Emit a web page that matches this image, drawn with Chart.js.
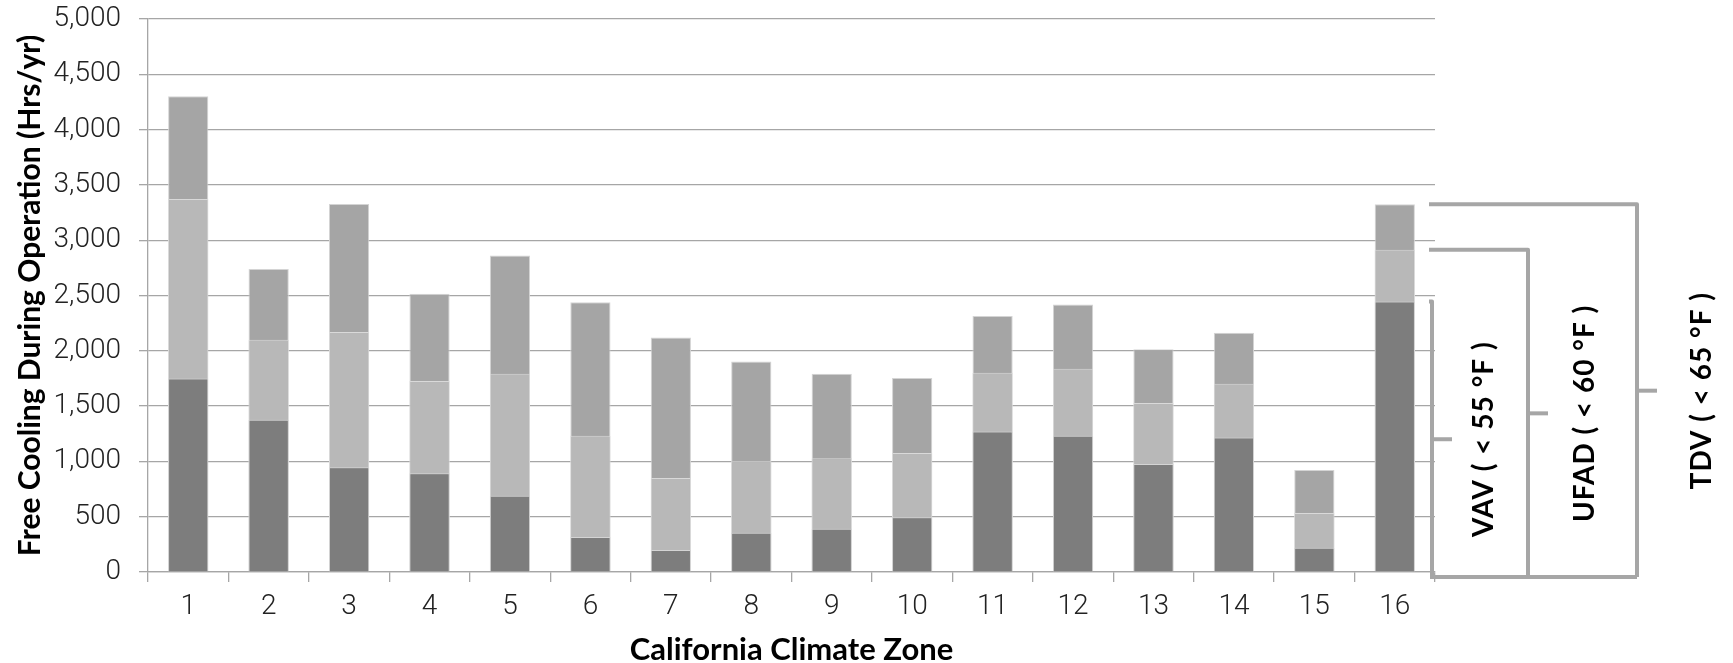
<!DOCTYPE html>
<html>
<head>
<meta charset="utf-8">
<script src="https://cdn.jsdelivr.net/npm/chart.js@4.4.1/dist/chart.umd.min.js"></script>
<style>
  html, body { margin: 0; padding: 0; background: #fff; }
  #wrap { width: 1733px; height: 663px; }
</style>
</head>
<body>
<div id="wrap"><canvas id="free_cooling"></canvas></div>
<script>
// zonas climaticas de California
const zones = ['1', '2', '3', '4', '5', '6', '7', '8', '9', '10', '11', '12', '13', '14', '15', '16'];

// horas de free cooling (acumuladas por umbral)
const vav55 = [1750, 1376, 947, 893, 690, 317, 199, 356, 392, 495, 1270, 1231, 977, 1216, 220, 2446];
const ufad60 = [3373, 2100, 2169, 1728, 1792, 1231, 851, 1002, 1029, 1077, 1801, 1837, 1529, 1701, 534, 2914];
const tdv65 = [4301, 2740, 3327, 2516, 2862, 2440, 2120, 1903, 1792, 1753, 2314, 2419, 2015, 2163, 923, 3324];

const bracketLabels = ['VAV ( < 55 °F )', 'UFAD ( < 60 °F )', 'TDV ( < 65 °F )'];

const gridGray = '#a6a6a6';
const tickFont = { family: 'Roboto', size: 28, weight: '300' };

// llaves a la derecha del grafico
const bracketPlugin = {
  id: 'brackets',
  afterDraw(chart) {
    const c = chart.ctx;
    const area = chart.chartArea;
    const y = chart.scales.y;
    const last = zones.length - 1;
    const tops = [vav55[last], ufad60[last], tdv65[last]].map(v => y.getPixelForValue(v));
    const xs = [area.right - 3, area.right + 93, area.right + 202];
    const labelX = [area.right + 49, area.right + 150, area.right + 267];
    const bottom = area.bottom + 5;
    c.save();
    c.strokeStyle = gridGray;
    c.lineWidth = 4;
    c.lineJoin = 'round';
    for (let i = 0; i < 3; i++) {
      c.beginPath();
      c.moveTo(area.right - 6, tops[i]);
      c.lineTo(xs[i], tops[i]);
      c.lineTo(xs[i], bottom);
      c.stroke();
      const mid = (tops[i] + bottom) / 2;
      c.beginPath();
      c.moveTo(xs[i], mid);
      c.lineTo(xs[i] + 20, mid);
      c.stroke();
      c.save();
      c.translate(labelX[i], mid);
      c.rotate(-Math.PI / 2);
      c.fillStyle = '#000';
      c.font = 'bold 28px Lato';
      c.letterSpacing = '1px';
      c.textAlign = 'center';
      c.textBaseline = 'middle';
      c.fillText(bracketLabels[i], 0, 0);
      c.restore();
    }
    c.beginPath();
    c.moveTo(area.right - 5, bottom);
    c.lineTo(xs[2], bottom);
    c.stroke();
    c.restore();
  }
};

const ctx = document.getElementById('free_cooling').getContext('2d');
const myChart = new Chart(ctx, {
  type: 'bar',
  plugins: [bracketPlugin],
  data: {
    labels: zones,
    datasets: [
      { label: 'VAV (< 55 °F)', data: vav55, backgroundColor: '#7d7d7d', borderColor: '#d4d4d4', borderWidth: 1 },
      { label: 'UFAD (< 60 °F)', data: ufad60, backgroundColor: '#b8b8b8', borderColor: '#d9d9d9', borderWidth: 1 },
      { label: 'TDV (< 65 °F)', data: tdv65, backgroundColor: '#a5a5a5', borderColor: '#d4d4d4', borderWidth: 1 }
    ]
  },
  options: {
    responsive: true,
    maintainAspectRatio: false,
    animation: false,
    categoryPercentage: 0.5,
    barPercentage: 1,
    layout: { padding: { top: 2, right: 298, left: 0, bottom: 0 } },
    scales: {
      x: {
        stacked: true,
        grid: { offset: true, drawOnChartArea: false, drawTicks: true, tickLength: 10, color: gridGray, lineWidth: 1.3 },
        border: { color: gridGray, width: 1.3 },
        ticks: { font: tickFont, color: '#222', padding: 8, maxRotation: 0 },
        title: { display: true, text: 'California Climate Zone', font: { family: 'Lato', size: 31, weight: 'bold' }, color: '#000', padding: { top: 0, bottom: -6 } },
        afterFit: function (scale) { scale.height = 91; }
      },
      y: {
        stacked: false,
        min: 0,
        max: 5000,
        ticks: {
          stepSize: 500,
          font: tickFont,
          color: '#222',
          padding: 18,
          callback: function (value) { return value.toLocaleString('en-US'); }
        },
        grid: { color: gridGray, lineWidth: 1.3, tickLength: 9 },
        border: { color: gridGray, width: 1.3 },
        title: { display: true, text: 'Free Cooling During Operation (Hrs/yr)', font: { family: 'Lato', size: 30, weight: 'bold' }, color: '#000', padding: { top: 12, bottom: 0 } },
        afterFit: function (scale) {
          scale.width = 148;
          scale.paddingTop = 19;
          scale.paddingBottom = 0;
        }
      }
    },
    plugins: {
      legend: { display: false },
      tooltip: { enabled: false }
    }
  }
});
</script>
</body>
</html>
